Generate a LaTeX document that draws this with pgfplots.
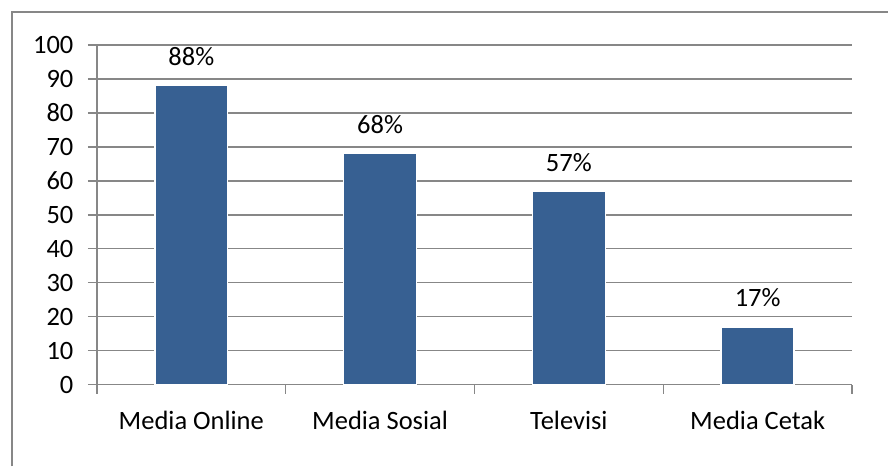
\documentclass[border=0pt]{standalone}
\usepackage{fontspec}
\setmainfont{Carlito}
\usepackage{pgfplots}
\pgfplotsset{compat=1.18}
\definecolor{barblue}{HTML}{376092}
\definecolor{gridgrey}{HTML}{878787}
\begin{document}
\begin{tikzpicture}[font=\fontsize{26.5}{32}\selectfont]
\begin{axis}[
  at={(0pt,0pt)}, anchor=south west,
  scale only axis, width=756pt, height=340pt,
  xmin=0.5, xmax=4.5, ymin=0, ymax=100,
  xtick={1,2,3,4},
  xticklabels={Media Online, Media Sosial, Televisi, Media Cetak},
  minor xtick={0.5,1.5,2.5,3.5,4.5},
  major x tick style={draw=none},
  minor x tick style={draw=gridgrey, line width=1.5pt},
  major tick length=9pt, minor tick length=9pt,
  ytick={0,10,...,100},
  ytick style={draw=gridgrey, line width=1.5pt},
  tick align=outside,
  ymajorgrids=true, xmajorgrids=false, xminorgrids=false,
  grid style={draw=gridgrey, line width=1.5pt},
  axis x line*=bottom, axis y line*=left,
  axis line style={draw=gridgrey, line width=1.5pt, -},
  /pgf/number format/assume math mode=true,
  yticklabel style={xshift=-11pt},
  xticklabel style={yshift=-14pt},
  ybar, bar width=73pt,
  nodes near coords={\pgfmathprintnumber{\pgfplotspointmeta}\%},
  every node near coord/.append style={anchor=base, yshift=20pt, text=black},
  clip=false,
]
\addplot[fill=barblue, draw=white, line width=1.5pt] coordinates {(1,88) (2,68) (3,57) (4,17)};
\end{axis}
\draw[gridgrey, line width=2pt] (-85pt,-82pt) -- (-85pt,373pt) -- (792pt,373pt);
\useasboundingbox (-97pt,-82pt) rectangle (792pt,385pt);
\end{tikzpicture}
\end{document}
